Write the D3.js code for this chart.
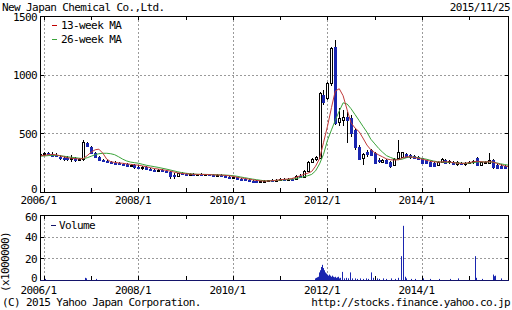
<!DOCTYPE html>
<html><head><meta charset="utf-8">
<script src="https://cdn.jsdelivr.net/npm/d3@7"></script>
<style>
html,body{margin:0;padding:0;background:#fff;}
svg{display:block;}
text{font-family:"DejaVu Sans Mono",monospace;font-size:11px;letter-spacing:-0.6px;fill:#000;}
</style></head><body>
<svg id="c" width="512" height="310"></svg>
<script>
// ---------- DATA ----------
const title = "New Japan Chemical Co.,Ltd.";
const dateLabel = "2015/11/25";
const copyright = "(C) 2015 Yahoo Japan Corporation.";
const source = "http://stocks.finance.yahoo.co.jp";
// monthly candles, Dec 2005 .. Nov 2015
const firstMonth = "2005-12-01";
const opens = [320,325,335,325,315,300,292,288,285,288,
 275,280,420,385,330,295,270,262,256,250,
 246,240,235,222,228,215,205,210,195,190,
 185,188,180,170,145,135,158,150,148,152,
 146,150,148,150,145,142,146,140,132,122,
 126,115,110,105,98,95,90,92,95,100,
 96,104,110,106,112,110,138,132,176,258,
 280,290,830,800,927,1240,600,615,640,628,
 528,386,290,340,355,330,270,255,272,258,
 232,290,300,320,315,310,300,287,270,258,
 250,232,258,270,252,258,240,250,240,248,
 255,288,232,245,245,272,230,225,222,215];
const highs = [335,345,345,340,330,315,310,305,315,300,
 290,440,425,395,345,305,280,270,265,262,
 258,250,248,238,236,228,220,218,208,200,
 195,195,188,178,160,165,168,160,158,160,
 156,158,155,156,152,150,152,148,140,135,
 132,122,118,112,106,102,98,100,104,110,
 108,118,120,116,122,148,150,190,268,292,
 305,850,870,940,1235,1295,720,700,680,660,
 545,400,335,360,365,340,290,285,285,265,
 290,440,345,330,322,318,305,292,275,262,
 255,262,290,280,272,265,260,258,255,265,
 275,295,258,262,330,280,240,235,232,228];
const lows = [305,310,315,300,295,270,265,260,255,258,
 262,268,380,325,290,265,255,248,240,238,
 230,222,210,212,200,195,190,188,180,178,
 172,170,160,110,115,130,145,135,138,140,
 138,142,140,140,136,135,136,128,110,112,
 108,100,98,92,88,85,84,86,90,94,
 92,98,100,98,100,106,125,128,170,250,
 268,280,740,780,900,570,560,560,420,470,
 360,270,230,300,305,235,245,245,235,205,
 225,280,290,290,280,282,275,238,235,212,
 215,228,250,240,242,230,225,228,225,235,
 240,228,225,238,240,200,200,200,198,195];
const closes = [325,330,320,310,305,290,285,282,290,275,
 280,430,390,335,300,272,262,255,250,246,
 240,235,222,228,215,205,210,195,190,185,
 188,180,170,140,135,158,152,148,152,146,
 150,148,150,145,142,146,140,132,120,128,
 115,110,105,98,95,90,92,95,100,96,
 104,110,106,112,108,140,132,178,255,285,
 298,840,770,927,1225,585,630,642,612,500,
 380,280,325,320,318,245,260,270,245,222,
 285,342,340,300,295,290,285,244,250,218,
 225,258,285,250,265,240,252,238,248,255,
 268,232,252,255,270,210,208,205,205,200];
const ma13 = [310,312,318,320,318,310,300,292,288,284,
 282,285,310,340,360,365,330,280,258,252,
 248,245,240,236,232,228,222,215,208,200,
 196,190,185,178,170,163,158,155,153,151,
 150,150,149,148,146,145,144,142,138,133,
 126,120,115,110,104,99,95,93,94,97,
 100,104,108,110,115,125,137,150,160,175,
 220,285,420,560,720,860,880,820,700,590,
 545,515,460,400,360,335,315,300,282,275,
 272,275,290,300,300,295,288,280,272,264,
 258,255,256,258,256,250,246,244,245,250,
 258,262,258,255,258,256,245,232,222,216];
const ma26 = [305,307,310,312,312,310,306,300,296,292,
 288,284,292,305,318,326,330,330,326,318,
 300,280,265,255,250,245,236,228,222,216,
 210,203,196,188,180,172,165,160,156,153,
 151,150,150,149,148,147,145,144,142,139,
 134,128,122,116,110,105,100,96,95,96,
 98,101,104,106,109,115,122,130,138,150,
 180,240,320,440,530,610,690,760,750,710,
 660,610,560,510,450,410,370,340,310,295,
 282,275,280,292,298,298,292,286,280,272,
 264,258,255,253,252,250,248,245,244,246,
 250,255,257,257,257,254,248,240,234,228];
const priceTicks = [0,500,1000,1500];
const volumeTicks = [0,20,40,60];
const yearLabels = ["2006/1","2008/1","2010/1","2012/1","2014/1"];
const minorYears = ["2007-01-01","2009-01-01","2011-01-01","2013-01-01","2015-01-01"];
const legendLabels = ["13-week MA","26-week MA"];
const volumeLabel = "Volume";
const volumeUnit = "(x1000000)";
// volume in millions of shares (only visible bars)
const volumeDates = ["2006-01-09","2006-11-13","2006-11-20","2007-02-05",
 "2011-09-26","2011-10-03","2011-10-10","2011-10-17","2011-10-24","2011-10-31","2011-11-07","2011-11-14",
 "2011-11-21","2011-11-28","2011-12-05","2011-12-12","2011-12-19","2011-12-26","2012-01-02","2012-01-09",
 "2012-01-16","2012-01-23","2012-01-30","2012-02-06","2012-02-13","2012-02-20","2012-02-27","2012-03-05",
 "2012-03-12","2012-03-19","2012-03-26","2012-04-02","2012-04-09","2012-04-23","2012-05-07","2012-05-21",
 "2012-06-04","2012-06-25","2012-07-09","2012-07-30","2012-08-20","2012-09-10","2012-10-01","2012-10-22",
 "2012-11-12","2012-12-03","2012-12-17","2013-01-14","2013-02-04","2013-03-04","2013-04-01","2013-05-06",
 "2013-06-03","2013-07-01","2013-07-22","2013-08-05","2013-08-19","2013-09-02","2013-10-07","2013-11-11",
 "2014-01-06","2014-03-03","2014-05-12","2014-08-04","2014-10-06","2015-02-16","2015-02-23","2015-04-06",
 "2015-07-06","2015-07-13","2015-07-20","2015-09-07"];
const volumeValues = [1,2,1.5,1,
 1.5,2,2.5,3,5,7,9,12,
 14,11,9,7,6,5,4,5,
 3.5,4,3,4,3,2.5,3,2,
 2.5,2,3,1.5,2,7.5,1.5,2,
 1.5,7,1.5,1.5,1,1.5,1,1.5,
 1,7,2,1.5,1,1.5,1,1.5,
 1,2,22,50,3,1.5,1,1,
 1.5,1,1,1,1.5,22,2,1,
 5,3.5,4,1.5];

// ---------- DRAW ----------
const svg = d3.select("#c");
const L = 40, R = 509, T = 16, B = 192, VT = 215, VB = 280;
const parse = d3.timeParse("%Y-%m-%d");
const months = d3.timeMonth.range(parse(firstMonth), d3.timeMonth.offset(parse(firstMonth), opens.length));
const x = d3.scaleTime().domain([new Date(2005,11,1), new Date(2015,10,4)]).range([L, R]);
const y = d3.scaleLinear().domain([0,1500]).range([B, T]);
const yv = d3.scaleLinear().domain([0,60]).range([VB, VT]);
const majorDates = yearLabels.map(s => d3.timeParse("%Y/%-m")(s));
const minorDates = minorYears.map(parse);
const allYears = majorDates.concat(minorDates);
const px = v => Math.round(v) + 0.5;

const blue = "#1a26b0";
const gridColor = "#9a9a9a";

function panel(top, bottom, yscale, ticks) {
  const g = svg.append("g");
  ticks.filter(t => t !== ticks[0] && t !== ticks[ticks.length-1]).forEach(t => {
    g.append("line").attr("x1", L).attr("x2", R).attr("y1", px(yscale(t))).attr("y2", px(yscale(t)))
      .attr("stroke", gridColor).attr("stroke-dasharray", "2,2");
  });
  majorDates.forEach(d => {
    g.append("line").attr("x1", px(x(d))).attr("x2", px(x(d))).attr("y1", top).attr("y2", bottom)
      .attr("stroke", gridColor).attr("stroke-dasharray", "2,2");
  });
  allYears.forEach(d => {
    g.append("line").attr("x1", px(x(d))).attr("x2", px(x(d))).attr("y1", top).attr("y2", top + 4).attr("stroke", "#000");
    g.append("line").attr("x1", px(x(d))).attr("x2", px(x(d))).attr("y1", bottom - 4).attr("y2", bottom).attr("stroke", "#000");
  });
  ticks.forEach(t => {
    const yy = px(yscale(t));
    g.append("line").attr("x1", L).attr("x2", L + 4).attr("y1", yy).attr("y2", yy).attr("stroke", "#000");
    g.append("line").attr("x1", R - 4).attr("x2", R).attr("y1", yy).attr("y2", yy).attr("stroke", "#000");
  });
  return g;
}

panel(T, B, y, priceTicks);
panel(VT, VB, yv, volumeTicks);

svg.append("clipPath").attr("id", "clipMain").append("rect").attr("x", L + 1).attr("y", T).attr("width", R - L - 1).attr("height", B - T);
svg.append("clipPath").attr("id", "clipVol").append("rect").attr("x", L + 1).attr("y", VT).attr("width", R - L - 1).attr("height", VB - VT);

// candles
const candles = months.map((d, i) => ({d, o: opens[i], h: highs[i], l: lows[i], c: closes[i]}));
const gc = svg.append("g").attr("clip-path", "url(#clipMain)");
candles.forEach(k => {
  const cx = Math.round(x(k.d));
  gc.append("line").attr("x1", cx + 0.5).attr("x2", cx + 0.5)
    .attr("y1", Math.round(y(k.h))).attr("y2", Math.round(y(k.l)))
    .attr("stroke", "#000");
  const up = k.c >= k.o;
  const top = Math.round(y(Math.max(k.o, k.c)));
  const bot = Math.round(y(Math.min(k.o, k.c)));
  gc.append("rect").attr("x", cx - 0.5).attr("y", top + 0.5)
    .attr("width", 2).attr("height", Math.max(bot - top, 1))
    .attr("fill", up ? "#fff" : blue).attr("stroke", up ? "#000" : blue);
});

// moving averages
const lineGen = arr => d3.line().x((d, i) => x(months[i])).y(d => y(d))(arr);
gc.append("path").attr("d", lineGen(ma26)).attr("fill", "none").attr("stroke", "#3aa43a").attr("stroke-width", 1);
gc.append("path").attr("d", lineGen(ma13)).attr("fill", "none").attr("stroke", "#c03a3a").attr("stroke-width", 1);

// volume
const gv = svg.append("g").attr("clip-path", "url(#clipVol)");
volumeDates.forEach((s, i) => {
  const xx = px(x(parse(s)));
  gv.append("line").attr("x1", xx).attr("x2", xx).attr("y1", VB).attr("y2", yv(volumeValues[i]))
    .attr("stroke", blue).attr("stroke-width", 1);
});

// frames
svg.append("rect").attr("x", L + 0.5).attr("y", T + 0.5).attr("width", R - L - 1).attr("height", B - T)
  .attr("fill", "none").attr("stroke", "#000");
svg.append("rect").attr("x", L + 0.5).attr("y", VT + 0.5).attr("width", R - L - 1).attr("height", VB - VT)
  .attr("fill", "none").attr("stroke", "#000");
svg.append("line").attr("x1", L).attr("x2", R).attr("y1", VB + 0.5).attr("y2", VB + 0.5).attr("stroke", "#14146a");

// axes (labels)
const fmt = d3.timeFormat("%Y/%-m");
function xLabels(yPos) {
  const g = svg.append("g").attr("transform", `translate(-6,${yPos})`)
    .call(d3.axisBottom(x).tickValues(majorDates).tickSize(0).tickFormat(fmt));
  g.select(".domain").remove();
  g.selectAll("text").attr("y", 12).attr("dy", null);
}
xLabels(B);
xLabels(VB + 2);

function yLabels(scale, ticks, topShift, botShift) {
  const g = svg.append("g").attr("transform", `translate(${L},0)`)
    .call(d3.axisLeft(scale).tickValues(ticks).tickSize(0).tickPadding(3).tickFormat(d3.format("d")));
  g.select(".domain").remove();
  g.selectAll("text").attr("dy", "0.36em")
    .attr("y", t => t === ticks[ticks.length-1] ? topShift : (t === ticks[0] ? botShift : 0));
}
yLabels(y, priceTicks, 1, -3);
yLabels(yv, volumeTicks, 2, -2);

// legends
const legColors = ["#c00000", "#3aa43a"];
legendLabels.forEach((t, i) => {
  const yy = 25 + i * 14;
  svg.append("line").attr("x1", 52).attr("x2", 57).attr("y1", yy + 0.5).attr("y2", yy + 0.5).attr("stroke", legColors[i]);
  svg.append("text").attr("x", 61).attr("y", yy + 4).text(t);
});
svg.append("line").attr("x1", 51).attr("x2", 56).attr("y1", 225.5).attr("y2", 225.5).attr("stroke", "#14146a");
svg.append("text").attr("x", 59).attr("y", 229).text(volumeLabel);

// texts
svg.append("text").attr("x", 2).attr("y", 11).text(title);
svg.append("text").attr("x", 510).attr("y", 11).attr("text-anchor", "end").text(dateLabel);
svg.append("text").attr("x", 2).attr("y", 306).text(copyright);
svg.append("text").attr("x", 510).attr("y", 306).attr("text-anchor", "end").text(source);
svg.append("text").attr("transform", "translate(9,262) rotate(-90)").attr("text-anchor", "middle").text(volumeUnit);
</script>
</body></html>
